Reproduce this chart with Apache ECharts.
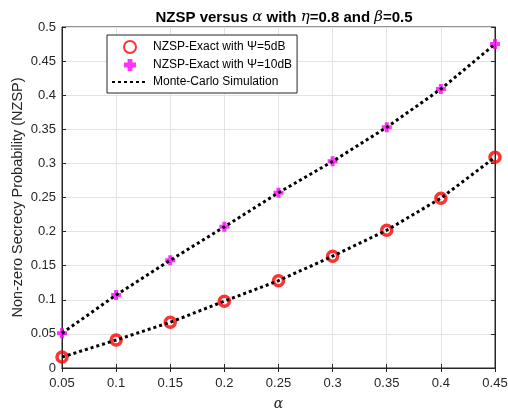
<!DOCTYPE html>
<html>
<head>
<meta charset="utf-8">
<script src="https://cdn.jsdelivr.net/npm/echarts@6/dist/echarts.min.js"></script>
<style>
  html, body { margin: 0; padding: 0; background: #fff; }
</style>
</head>
<body>
<div id="main" style="width: 508px; height: 410px"></div>
<script>
  // values
  var alphaValues = [0.05, 0.1, 0.15, 0.2, 0.25, 0.3, 0.35, 0.4, 0.45];
  var exact5dB = [0.016, 0.041, 0.067, 0.098, 0.128, 0.164, 0.202, 0.249, 0.309];
  var exact10dB = [0.051, 0.107, 0.158, 0.207, 0.257, 0.303, 0.353, 0.409, 0.475];
  var sim5dB = [0.016, 0.041, 0.067, 0.098, 0.128, 0.164, 0.202, 0.249, 0.309];
  var sim10dB = [0.051, 0.107, 0.158, 0.207, 0.257, 0.303, 0.353, 0.409, 0.475];

  function pairs(ys) {
    return alphaValues.map(function (x, i) { return [x, ys[i]]; });
  }

  var plusPath = "path://M3,0H7V3H10V7H7V10H3V7H0V3H3Z";
  var axisColor = "#262626";
  var fmt = function (v) { return String(+v.toFixed(2)); };

  var myChart = echarts.init(document.getElementById("main"));

  var option = {
    animation: false,
    title: {
      text: "NZSP versus {g|α} with {g|η}=0.8 and {g|β}=0.5",
      left: 279,
      textAlign: "center",
      top: 5,
      textStyle: {
        fontFamily: "Liberation Sans, Arial",
        fontSize: 15,
        fontWeight: "bold",
        color: "#000",
        rich: {
          g: { fontFamily: "DejaVu Serif, serif", fontStyle: "italic", fontSize: 15, fontWeight: "normal", color: "#000" }
        }
      }
    },
    grid: {
      left: 62, right: 13, top: 27, bottom: 42,
      containLabel: false, outerBoundsMode: "none",
      show: true, borderColor: axisColor, borderWidth: 1
    },
    legend: {
      orient: "vertical",
      left: 107,
      top: 35,
      padding: [5, 5, 5, 4],
      itemGap: 5,
      itemWidth: 36,
      itemHeight: 12,
      backgroundColor: "#fff",
      borderColor: axisColor,
      borderWidth: 1,
      borderRadius: 0,
      textStyle: { fontFamily: "Liberation Sans, Arial", fontSize: 12, color: "#000" },
      data: [
        "NZSP-Exact with Ψ=5dB",
        "NZSP-Exact with Ψ=10dB",
        { name: "Monte-Carlo Simulation", itemStyle: { color: "rgba(0,0,0,0)", borderWidth: 0 } }
      ]
    },
    xAxis: [
      {
        type: "value",
        min: 0.05,
        max: 0.45,
        interval: 0.05,
        name: "α",
        nameLocation: "middle",
        nameGap: 29,
        nameTextStyle: { fontFamily: "DejaVu Serif, serif", fontStyle: "italic", fontSize: 14, color: axisColor },
        axisLine: { lineStyle: { color: axisColor } },
        axisTick: { inside: true, length: 4, lineStyle: { color: axisColor } },
        axisLabel: { formatter: fmt, fontFamily: "Liberation Sans, Arial", fontSize: 13, color: axisColor, margin: 9 },
        splitLine: { show: true, lineStyle: { color: "#e3e3e3" } }
      },
      {
        type: "value",
        position: "top",
        min: 0.05,
        max: 0.45,
        interval: 0.05,
        axisLine: { lineStyle: { color: axisColor } },
        axisTick: { inside: true, length: 4, lineStyle: { color: axisColor } },
        axisLabel: { show: false },
        splitLine: { show: false }
      }
    ],
    yAxis: [
      {
        type: "value",
        min: 0,
        max: 0.5,
        interval: 0.05,
        name: "Non-zero Secrecy Probability (NZSP)",
        nameLocation: "middle",
        nameGap: 37,
        nameMoveOverlap: false,
        nameTextStyle: { fontFamily: "Liberation Sans, Arial", fontSize: 14.5, color: axisColor },
        axisLine: { show: true, lineStyle: { color: axisColor } },
        axisTick: { show: true, inside: true, length: 4, lineStyle: { color: axisColor } },
        axisLabel: { formatter: fmt, fontFamily: "Liberation Sans, Arial", fontSize: 13, color: axisColor, margin: 6 },
        splitLine: { show: true, lineStyle: { color: "#e3e3e3" } }
      },
      {
        type: "value",
        position: "right",
        min: 0,
        max: 0.5,
        interval: 0.05,
        axisLine: { show: true, lineStyle: { color: axisColor } },
        axisTick: { show: true, inside: true, length: 4, lineStyle: { color: axisColor } },
        axisLabel: { show: false },
        splitLine: { show: false }
      }
    ],
    series: [
      {
        name: "NZSP-Exact with Ψ=5dB",
        type: "scatter",
        data: pairs(exact5dB),
        symbol: "circle",
        symbolSize: 10,
        itemStyle: { color: "rgba(255,255,255,0)", borderColor: "#ff0000", borderWidth: 3.5 },
        z: 2
      },
      {
        name: "NZSP-Exact with Ψ=10dB",
        type: "scatter",
        data: pairs(exact10dB),
        symbol: plusPath,
        symbolSize: 10,
        itemStyle: { color: "#ff00ff" },
        z: 2
      },
      {
        name: "Monte-Carlo Simulation",
        type: "line",
        data: pairs(sim5dB),
        showSymbol: false,
        symbol: "none",
        lineStyle: { color: "#000", width: 3, type: [3, 3] },
        itemStyle: { color: "#000" },
        z: 3
      },
      {
        name: "Monte-Carlo Simulation",
        type: "line",
        data: pairs(sim10dB),
        showSymbol: false,
        symbol: "none",
        lineStyle: { color: "#000", width: 3, type: [3, 3] },
        itemStyle: { color: "#000" },
        z: 3
      }
    ]
  };

  myChart.setOption(option);
</script>
</body>
</html>
